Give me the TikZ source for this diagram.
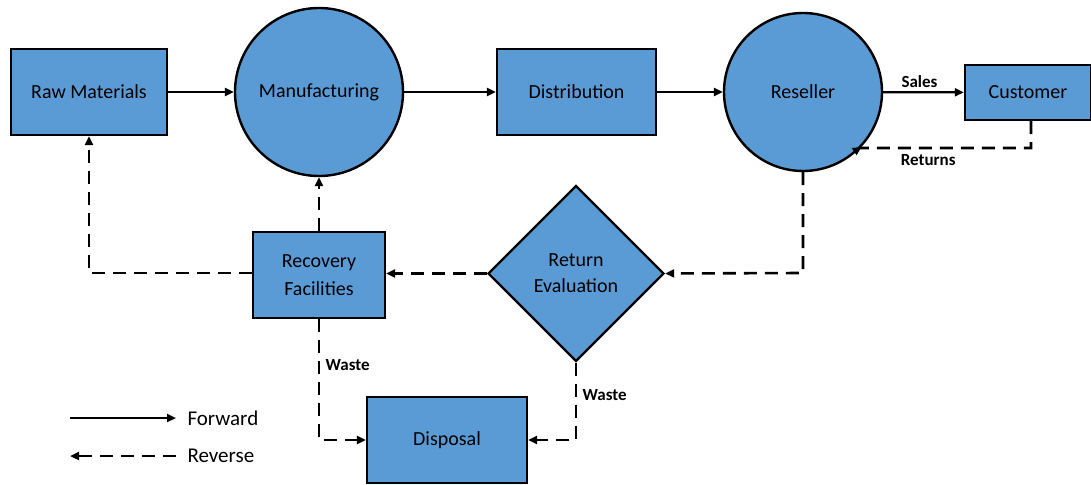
\documentclass[tikz,border=0pt]{standalone}
\usepackage{fontspec}
\setmainfont{Carlito}
\usetikzlibrary{shapes.geometric,arrows.meta}
\definecolor{boxblue}{HTML}{5B9BD5}
\tikzset{
  blk/.style={draw=black, line width=2.4pt, fill=boxblue, font=\fontsize{20}{22}\selectfont, align=center},
  rbox/.style={blk, rectangle, minimum width=#1, minimum height=86pt, inner sep=0pt},
  cnode/.style={blk, circle, minimum size=#1, inner sep=0pt},
  dnode/.style={blk, diamond, minimum width=176pt, minimum height=176pt, inner sep=0pt},
  fwd/.style={line width=2.2pt, -{Triangle[length=9pt,width=8pt]}},
  rev/.style={line width=2.6pt, dash pattern=on 13pt off 8pt, -{Triangle[length=9pt,width=8pt]}},
  lbl/.style={font=\fontsize{17}{19}\selectfont\bfseries},
  leg/.style={font=\fontsize{21}{23}\selectfont, anchor=west}
}
\begin{document}
\begin{tikzpicture}[x=1pt,y=-1pt]
\useasboundingbox (0,0) rectangle (1091,484);
\node[rbox=156pt] (raw) at (89,92) {Raw Materials};
\node[cnode=168pt] (man) at (319,92) {Manufacturing};
\node[rbox=159pt] (dis) at (576.5,92) {Distribution};
\node[cnode=158pt] (res) at (803,92) {Reseller};
\node[blk, rectangle, minimum width=126pt, minimum height=55pt, inner sep=0pt] (cus) at (1028,92.5) {Customer};
\node[rbox=132pt] (rec) at (319,275) {Recovery\\[6pt]Facilities};
\node[dnode] (eva) at (576,273.5) {Return\\[4pt]Evaluation};
\node[rbox=160pt] (dsp) at (447,440) {Disposal};

\coordinate (c1) at (1031,148);
\coordinate (c2) at (803,273);
\coordinate (c3) at (89,273);
\coordinate (c4) at (319,440);
\coordinate (c5) at (576,440);
\coordinate (l1) at (70,418);
\coordinate (l2) at (176,418);
\coordinate (l3) at (70,456);
\coordinate (l4) at (176,456);

\draw[fwd] (raw) -- (man);
\draw[fwd] (man) -- (dis);
\draw[fwd] (dis) -- (res);
\draw[fwd] (res) -- node[lbl, above, pos=0.45] {Sales} (cus);
\draw[rev] (cus.south -| c1) -- (c1) -- node[lbl, below=2pt, pos=0.6] {Returns} (res.south east |- c1) -- (res.-43);
\draw[rev] (res.south) -- (c2) -- (eva.east);
\draw[rev] (eva.west) -- (rec.east |- eva.west);
\draw[rev] (rec.west |- c3) -- (c3) -- (raw.south);
\draw[rev] (rec.north) -- (man.south);
\draw[rev] (rec.south) -- node[lbl, right=2pt, pos=0.38] {Waste} (c4) -- (dsp.west);
\draw[rev] (eva.south) -- node[lbl, right=2pt, pos=0.42] {Waste} (c5) -- (dsp.east);

\draw[fwd] (l1) -- (l2);
\node[leg] (lf) at (184,418) {Forward};
\draw[rev] (l4) -- (l3);
\node[leg] (lr) at (184,456) {Reverse};
\end{tikzpicture}
\end{document}
